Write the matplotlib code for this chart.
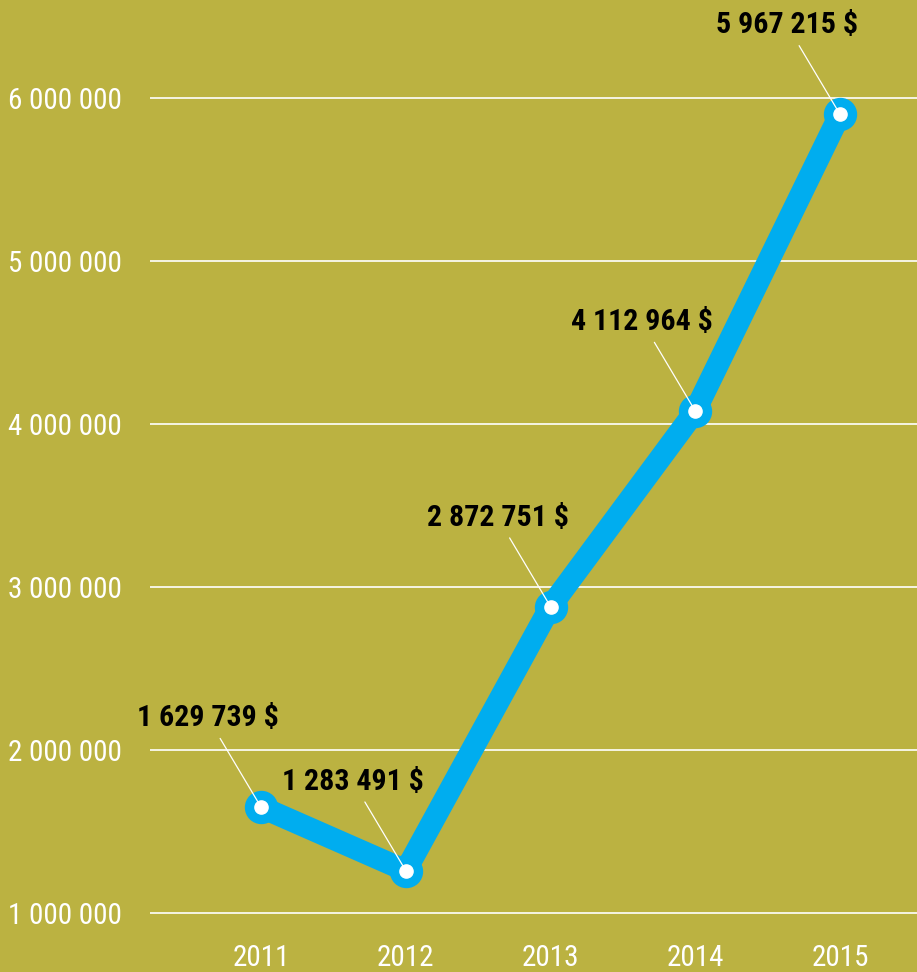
import matplotlib
matplotlib.use('Agg')
import matplotlib.pyplot as plt
from matplotlib import font_manager

# data (line positions, labels as printed)
years = [2011, 2012, 2013, 2014, 2015]
values = [1650000, 1260000, 2880000, 4080000, 5900000]
labels = ['1 629 739 $', '1 283 491 $', '2 872 751 $', '4 112 964 $', '5 967 215 $']
yticks = [1000000, 2000000, 3000000, 4000000, 5000000, 6000000]
ytick_labels = ['1 000 000', '2 000 000', '3 000 000', '4 000 000', '5 000 000', '6 000 000']

# pick a narrow font if there is one
font = 'DejaVu Sans'
for f in ['Liberation Sans Narrow', 'Roboto Condensed', 'Roboto']:
    try:
        font_manager.findfont(f, fallback_to_default=False)
        font = f
        break
    except Exception:
        pass
plt.rcParams['font.family'] = [font, 'DejaVu Sans']

bg = '#bbb241'
blue = '#00adef'

W, H = 917, 972
fig = plt.figure(figsize=(W / 100, H / 100), dpi=100, facecolor=bg)
ax = fig.add_axes([150 / W, 32 / H, 1 - 150 / W, 940 / H], facecolor=bg)

ax.set_xlim(2011 - 111 / 144.75, 2015 + 77 / 144.75)
ax.set_ylim(1000000 - 27 / 163 * 1e6, 6000000 + 98 / 163 * 1e6)

for s in ax.spines.values():
    s.set_visible(False)
ax.yaxis.grid(True, color='white', lw=1.2)
ax.set_axisbelow(True)

ax.set_yticks(yticks)
ax.set_yticklabels(ytick_labels, color='white', fontsize=21, ha='left')
ax.tick_params(axis='y', length=0, pad=102)
ax.set_xticks(years)
ax.set_xticklabels([str(y) for y in years], color='white', fontsize=21)
ax.tick_params(axis='x', length=0, pad=3)

ax.plot(years, values, color=blue, lw=16, solid_joinstyle='round',
        solid_capstyle='round', zorder=3)
ax.plot(years, values, 'o', ms=23, color=blue, zorder=4)
ax.plot(years, values, 'o', ms=9.5, color='white', zorder=6)

for x, y, t in zip(years, values, labels):
    ax.annotate(t, (x, y), xytext=(-53, 89), textcoords='offset pixels',
                ha='center', va='center', fontsize=21.5, fontweight='bold',
                color='black', zorder=5,
                arrowprops=dict(arrowstyle='-', color='white', lw=0.9,
                                shrinkA=3, shrinkB=0))

fig.savefig('out.png', dpi=100, facecolor=bg)
